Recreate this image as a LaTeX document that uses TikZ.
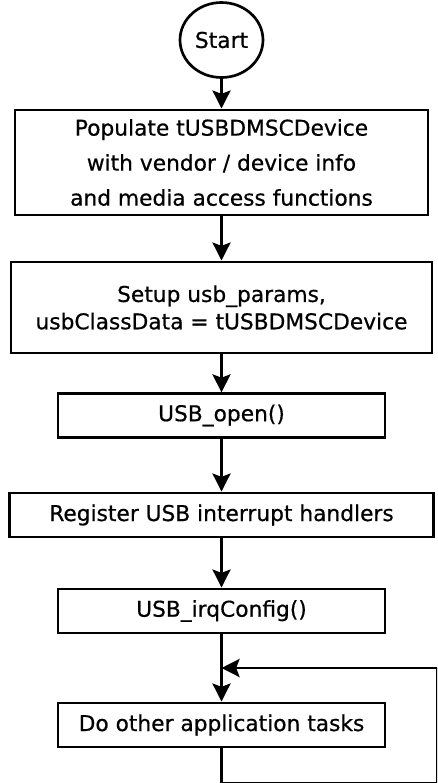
\documentclass[tikz,border=0pt]{standalone}
\usepackage{fontspec}
\setmainfont{DejaVu Sans}[UprightFeatures={RawFeature={embolden=0.6}}]
\usetikzlibrary{arrows.meta,shapes.geometric}
\begin{document}
\begin{tikzpicture}[x=0.75pt,y=-0.75pt,
  flowline/.style={line width=2.2pt,line cap=butt},
  arrowed/.style={flowline,-{Stealth[length=13.5pt,width=13.5pt,inset=2.5pt]}},
  stepbox/.style={draw,line width=2.2pt,rectangle,inner sep=0pt,align=center,
    font=\fontsize{16.3}{20}\selectfont},
  startnode/.style={draw,line width=2pt,ellipse,inner sep=0pt,
    font=\fontsize{16.3}{20}\selectfont}]
\useasboundingbox (0,0) rectangle (437,783);
\clip (0,0) rectangle (437,783);

% terminal
\node[startnode,minimum width=62.25pt,minimum height=56.25pt] (start) at (221.5,40) {Start};

% process steps
\node[stepbox,minimum width=309.75pt,minimum height=78.75pt,
  font=\fontsize{16.3}{26.25}\selectfont] (b1) at (221.5,162.5)
  {Populate tUSBDMSCDevice\\with vendor / device info\\and media access functions};
\node[stepbox,minimum width=315.75pt,minimum height=68.25pt,
  font=\fontsize{16.3}{20.5}\selectfont] (b2) at (221.5,307.5)
  {Setup usb\_params,\\usbClassData = tUSBDMSCDevice};
\node[stepbox,minimum width=245.25pt,minimum height=32.5pt] (b3) at (221.5,415.5) {USB\_open()};
\node[stepbox,minimum width=318pt,minimum height=33pt] (b4) at (221.5,515) {Register USB interrupt handlers};
\node[stepbox,minimum width=245.25pt,minimum height=33pt] (b5) at (221.5,611) {USB\_irqConfig()};
\node[stepbox,minimum width=245.25pt,minimum height=33pt] (b6) at (221.5,725) {Do other application tasks};

% loop path corners
\coordinate (join) at (221.5,668);
\coordinate (loopbl) at (221.5,783.5);
\coordinate (loopbr) at (437.5,783.5);
\coordinate (looptr) at (437.5,668);

% connectors
\draw[arrowed] (start) -- (b1);
\draw[arrowed] (b1) -- (b2);
\draw[arrowed] (b2) -- (b3);
\draw[arrowed] (b3) -- (b4);
\draw[arrowed] (b4) -- (b5);
\draw[arrowed] (b5) -- (b6);
\draw[flowline] (b6.south) -- (loopbl) -- (loopbr) -- (looptr);
\draw[arrowed] (looptr) -- (join);
\end{tikzpicture}
\end{document}
